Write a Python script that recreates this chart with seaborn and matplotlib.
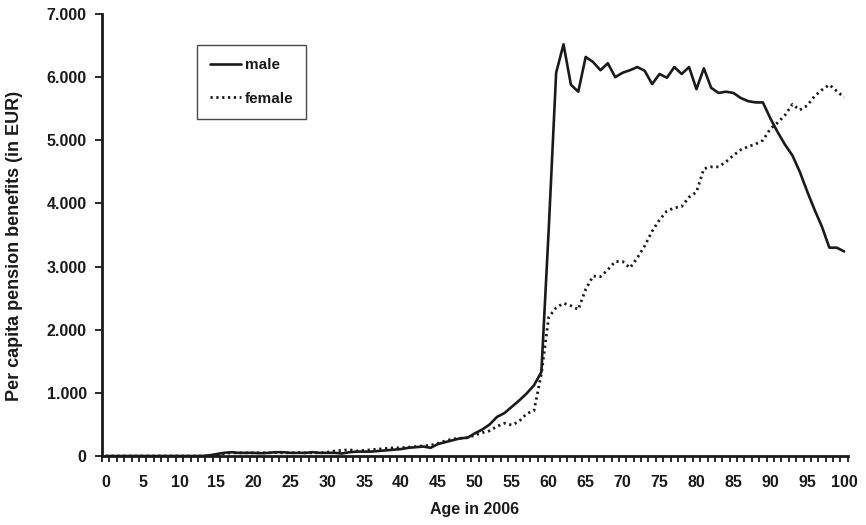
import matplotlib
matplotlib.use("Agg")
import matplotlib.pyplot as plt
import seaborn as sns
import pandas as pd
import numpy as np

# Per-capita pension benefits by age (EUR), 2006
ages = list(range(0, 101))

male = [
    0, 0, 0, 0, 0, 0, 0, 0, 0, 0,                      # 0-9
    0, 0, 0, 0, 10, 30, 50, 60, 50, 50,                # 10-19
    50, 45, 50, 60, 60, 50, 50, 50, 60, 50,            # 20-29
    50, 50, 40, 60, 70, 70, 70, 80, 90, 100,           # 30-39
    110, 130, 140, 150, 130, 190, 220, 250, 280, 290,  # 40-49
    360, 420, 500, 620, 680, 780, 880, 990, 1120, 1330,  # 50-59
    3600, 6070, 6520, 5880, 5770, 6320, 6240, 6110, 6220, 6000,  # 60-69
    6070, 6110, 6160, 6100, 5890, 6050, 5990, 6160, 6050, 6160,  # 70-79
    5810, 6140, 5830, 5750, 5770, 5750, 5670, 5620, 5600, 5600,  # 80-89
    5350, 5130, 4930, 4760, 4500, 4190, 3900, 3630, 3300, 3300,  # 90-99
    3240,                                                          # 100
]

female = [
    0, 0, 0, 0, 0, 0, 0, 0, 0, 0,                      # 0-9
    0, 0, 0, 0, 0, 20, 40, 50, 50, 50,                 # 10-19
    50, 50, 50, 55, 50, 50, 55, 50, 50, 50,            # 20-29
    60, 80, 90, 100, 80, 90, 100, 110, 120, 130,       # 30-39
    130, 140, 150, 160, 170, 200, 240, 270, 280, 290,  # 40-49
    330, 370, 400, 470, 520, 490, 550, 670, 720, 1300,  # 50-59
    2200, 2350, 2420, 2380, 2320, 2640, 2850, 2840, 2950, 3080,  # 60-69
    3080, 2980, 3140, 3330, 3560, 3740, 3880, 3930, 3950, 4100,  # 70-79
    4180, 4550, 4580, 4580, 4660, 4760, 4850, 4900, 4940, 5000,  # 80-89
    5180, 5280, 5400, 5570, 5480, 5550, 5700, 5800, 5880, 5780,  # 90-99
    5680,                                                          # 100
]

y_ticks = [0, 1000, 2000, 3000, 4000, 5000, 6000, 7000]
y_tick_labels = ["0", "1.000", "2.000", "3.000", "4.000", "5.000", "6.000", "7.000"]
x_label_ticks = list(range(0, 101, 5))

df = pd.DataFrame({"age": ages * 2,
                   "benefit": male + female,
                   "sex": ["male"] * len(ages) + ["female"] * len(ages)})

sns.set_theme(style="white")
plt.rcParams["font.family"] = ["Liberation Sans", "DejaVu Sans"]
plt.rcParams["font.weight"] = "bold"

INK = "#1a1a1a"
TICK_FS = 11.5

fig = plt.figure(figsize=(8.66, 5.25), dpi=100)
ax = fig.add_axes([0.1178, 0.1314, 0.979 - 0.1178, 0.9733 - 0.1314])

sns.lineplot(data=df[df.sex == "male"], x="age", y="benefit", ax=ax,
             color=INK, linewidth=1.9, linestyle="-", label="male")
sns.lineplot(data=df[df.sex == "female"], x="age", y="benefit", ax=ax,
             color=INK, linewidth=2.0, linestyle=(0, (0.8, 1.3)),
             label="female")

ax.set_xlim(-0.5, 100.5)
ax.set_ylim(0, 7000)

# minor ticks between each age category, labels every 5 years
ax.set_xticks(x_label_ticks)
ax.set_xticklabels([str(v) for v in x_label_ticks], fontsize=TICK_FS,
                   fontweight="bold")
ax.set_xticks(np.arange(-0.5, 101, 1.0), minor=True)
ax.tick_params(axis="x", which="major", length=0, pad=14)
ax.tick_params(axis="x", which="minor", direction="out", length=4,
               width=1.3, color=INK, bottom=True)

ax.set_yticks(y_ticks)
ax.set_yticklabels(y_tick_labels, fontsize=TICK_FS, fontweight="bold")
ax.tick_params(axis="y", which="major", direction="out", length=5,
               width=1.3, color=INK, left=True, pad=6)

for lab in ax.get_xticklabels() + ax.get_yticklabels():
    lab.set_color(INK)

ax.spines["top"].set_visible(False)
ax.spines["right"].set_visible(False)
for s in ("left", "bottom"):
    ax.spines[s].set_color(INK)
    ax.spines[s].set_linewidth(2.0)

ax.set_xlabel("Age in 2006", fontsize=11.5, fontweight="bold", color=INK,
              labelpad=8)
ax.set_ylabel("Per capita pension benefits (in EUR)", fontsize=13,
              fontweight="bold", color=INK)
ax.yaxis.set_label_coords(-0.117, 0.475, transform=ax.transAxes)
ax.yaxis.label.set_verticalalignment("center")

leg = ax.legend(loc="upper left", bbox_to_anchor=(0.128, 0.93),
                prop={"size": 11, "weight": "bold"}, frameon=True,
                fancybox=False, edgecolor=INK, handlelength=2.0,
                handletextpad=0.25, borderpad=0.85, labelspacing=1.3,
                borderaxespad=0)
leg.get_frame().set_linewidth(1.0)
for t in leg.get_texts():
    t.set_color(INK)

fig.savefig("out.png", dpi=100, facecolor="white")
